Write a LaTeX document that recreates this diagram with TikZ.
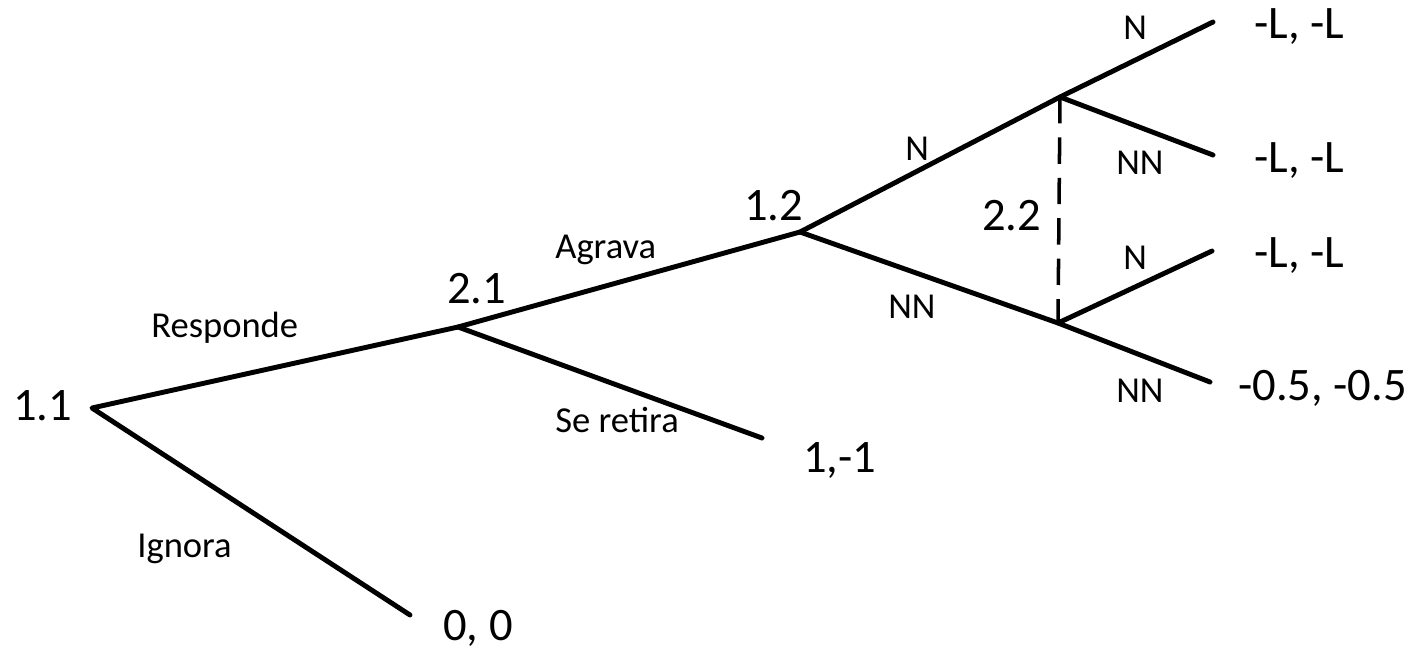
\documentclass[tikz,border=0pt]{standalone}
\usepackage{fontspec}
\setmainfont{Carlito}
\usepackage{tikz}

\begin{document}
\begin{tikzpicture}[x=0.02cm, y=-0.02cm,
	every node/.style={inner sep=0pt, anchor=base west},
	big/.style={font=\fontsize{26.5pt}{30pt}\selectfont},
	lab/.style={font=\fontsize{20.8pt}{24pt}\selectfont},
	branch/.style={line width=2.8pt, line cap=round, line join=round}]
	\useasboundingbox (0,0) rectangle (1420,650);
	% decision points
	\coordinate (c11) at (92,408);
	\coordinate (c21) at (458,327);
	\coordinate (c12) at (800,232);
	\coordinate (c22a) at (1060,97);
	\coordinate (c22b) at (1058,323);
	% branch ends
	\coordinate (e00) at (410,615);
	\coordinate (e10) at (762,438);
	\coordinate (eA) at (1213,22);
	\coordinate (eB) at (1213,155);
	\coordinate (eC) at (1212,251);
	\coordinate (eD) at (1210,382);
	\draw[branch] (e00) -- (c11) -- (c21) -- (c12) -- (c22a) -- (eA);
	\draw[branch] (c21) -- (e10);
	\draw[branch] (c12) -- (c22b) -- (eD);
	\draw[branch] (c22a) -- (eB);
	\draw[branch] (c22b) -- (eC);
	\draw[line width=2pt, dash pattern=on 15pt off 8pt] (c22a) -- (c22b);
	% players
	\node[big] (p11) at (13,420) {1.1};
	\node[big] (p21) at (447,303) {2.1};
	\node[big] (p12) at (744,220) {1.2};
	\node[big] (p22) at (982,230) {2.2};
	% payoffs
	\node[big] (u00) at (443,640) {0, 0};
	\node[big] (u10) at (803,472) {1,-1};
	\node[big] (uA) at (1254,38) {-L, -L};
	\node[big] (uB) at (1254,172) {-L, -L};
	\node[big] (uC) at (1254,267) {-L, -L};
	\node[big] (uD) at (1238,400) {-0.5, -0.5};
	% actions
	\node[lab] (aResp) at (151,337) {Responde};
	\node[lab] (aIgn) at (137,557) {Ignora};
	\node[lab] (aAgr) at (555,258) {Agrava};
	\node[lab] (aRet) at (555,432) {Se retira};
	\node[lab] (aN1) at (905,160) {N};
	\node[lab] (aNN1) at (888,318) {NN};
	\node[lab] (aN2) at (1123,39) {N};
	\node[lab] (aNN2) at (1116,174) {NN};
	\node[lab] (aN3) at (1123,269) {N};
	\node[lab] (aNN3) at (1116,402) {NN};
\end{tikzpicture}
\end{document}
